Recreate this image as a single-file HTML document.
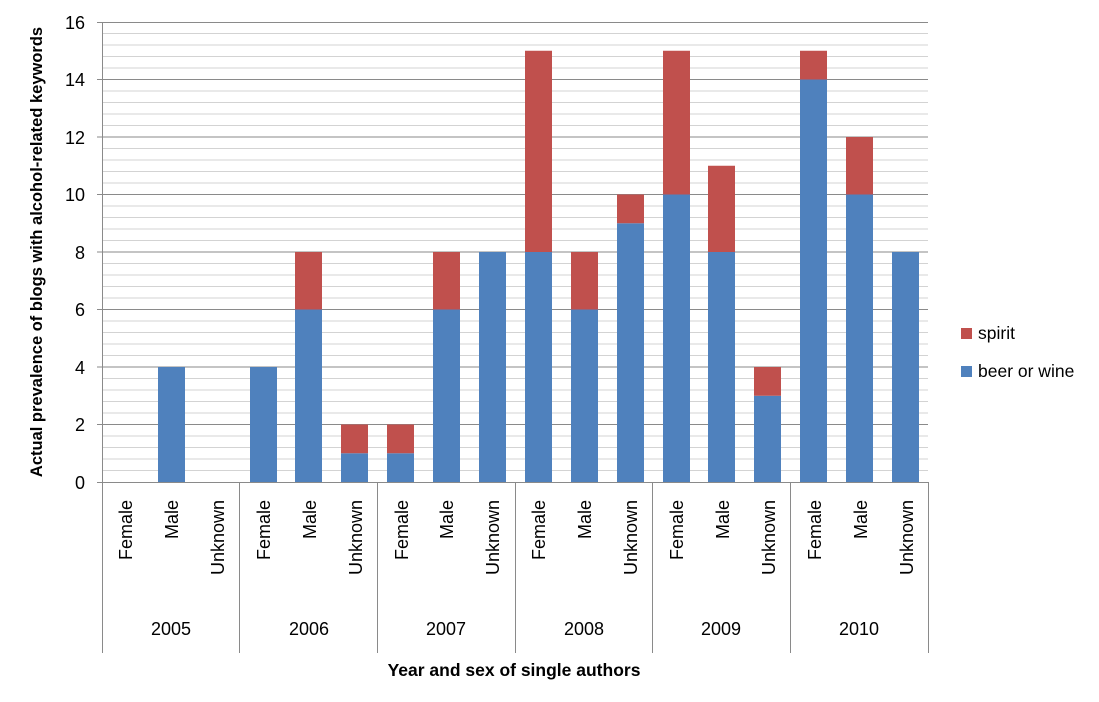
<!DOCTYPE html>
<html><head><meta charset="utf-8"><style>html,body{margin:0;padding:0;background:#fff}svg{display:block}text{font-family:"Liberation Sans",sans-serif;fill:#000}</style></head><body>
<svg width="1099" height="702" viewBox="0 0 1099 702" xmlns="http://www.w3.org/2000/svg">
<g stroke="#d3d3d3" stroke-width="1">
<line x1="102" x2="928" y1="33.5" y2="33.5"/><line x1="102" x2="928" y1="45" y2="45"/><line x1="102" x2="928" y1="56.5" y2="56.5"/><line x1="102" x2="928" y1="68" y2="68"/>
<line x1="102" x2="928" y1="91" y2="91"/><line x1="102" x2="928" y1="102.5" y2="102.5"/><line x1="102" x2="928" y1="114" y2="114"/><line x1="102" x2="928" y1="125.5" y2="125.5"/>
<line x1="102" x2="928" y1="148.5" y2="148.5"/><line x1="102" x2="928" y1="160" y2="160"/><line x1="102" x2="928" y1="171.5" y2="171.5"/><line x1="102" x2="928" y1="183" y2="183"/>
<line x1="102" x2="928" y1="206" y2="206"/><line x1="102" x2="928" y1="217.5" y2="217.5"/><line x1="102" x2="928" y1="229" y2="229"/><line x1="102" x2="928" y1="240.5" y2="240.5"/>
<line x1="102" x2="928" y1="263.5" y2="263.5"/><line x1="102" x2="928" y1="275" y2="275"/><line x1="102" x2="928" y1="286.5" y2="286.5"/><line x1="102" x2="928" y1="298" y2="298"/>
<line x1="102" x2="928" y1="321" y2="321"/><line x1="102" x2="928" y1="332.5" y2="332.5"/><line x1="102" x2="928" y1="344" y2="344"/><line x1="102" x2="928" y1="355.5" y2="355.5"/>
<line x1="102" x2="928" y1="378.5" y2="378.5"/><line x1="102" x2="928" y1="390" y2="390"/><line x1="102" x2="928" y1="401.5" y2="401.5"/><line x1="102" x2="928" y1="413" y2="413"/>
<line x1="102" x2="928" y1="436" y2="436"/><line x1="102" x2="928" y1="447.5" y2="447.5"/><line x1="102" x2="928" y1="459" y2="459"/><line x1="102" x2="928" y1="470.5" y2="470.5"/>
</g>
<g stroke="#8a8a8a" stroke-width="1">
<line x1="97" x2="928" y1="22.5" y2="22.5"/><line x1="97" x2="928" y1="79.5" y2="79.5"/><line x1="97" x2="928" y1="137" y2="137"/><line x1="97" x2="928" y1="194.5" y2="194.5"/><line x1="97" x2="928" y1="252" y2="252"/><line x1="97" x2="928" y1="309.5" y2="309.5"/><line x1="97" x2="928" y1="367" y2="367"/><line x1="97" x2="928" y1="424.5" y2="424.5"/>
</g>
<g fill="#4F81BD">
<rect x="158" y="367" width="27" height="115"/>
<rect x="250" y="367" width="27" height="115"/>
<rect x="295" y="309.5" width="27" height="172.5"/>
<rect x="341" y="453.25" width="27" height="28.75"/>
<rect x="387" y="453.25" width="27" height="28.75"/>
<rect x="433" y="309.5" width="27" height="172.5"/>
<rect x="479" y="252" width="27" height="230"/>
<rect x="525" y="252" width="27" height="230"/>
<rect x="571" y="309.5" width="27" height="172.5"/>
<rect x="617" y="223.25" width="27" height="258.75"/>
<rect x="663" y="194.5" width="27" height="287.5"/>
<rect x="708" y="252" width="27" height="230"/>
<rect x="754" y="395.75" width="27" height="86.25"/>
<rect x="800" y="79.5" width="27" height="402.5"/>
<rect x="846" y="194.5" width="27" height="287.5"/>
<rect x="892" y="252" width="27" height="230"/>
</g>
<g fill="#C0504D">
<rect x="295" y="252" width="27" height="57.5"/>
<rect x="341" y="424.5" width="27" height="28.75"/>
<rect x="387" y="424.5" width="27" height="28.75"/>
<rect x="433" y="252" width="27" height="57.5"/>
<rect x="525" y="50.75" width="27" height="201.25"/>
<rect x="571" y="252" width="27" height="57.5"/>
<rect x="617" y="194.5" width="27" height="28.75"/>
<rect x="663" y="50.75" width="27" height="143.75"/>
<rect x="708" y="165.75" width="27" height="86.25"/>
<rect x="754" y="367" width="27" height="28.75"/>
<rect x="800" y="50.75" width="27" height="28.75"/>
<rect x="846" y="137" width="27" height="57.5"/>
</g>
<g stroke="#8a8a8a" stroke-width="1">
<line x1="102.5" x2="102.5" y1="22" y2="653"/>
<line x1="97" x2="928" y1="482.5" y2="482.5"/>
<line x1="239.5" x2="239.5" y1="482" y2="653"/>
<line x1="377.5" x2="377.5" y1="482" y2="653"/>
<line x1="515.5" x2="515.5" y1="482" y2="653"/>
<line x1="652.5" x2="652.5" y1="482" y2="653"/>
<line x1="790.5" x2="790.5" y1="482" y2="653"/>
<line x1="928.5" x2="928.5" y1="482" y2="653"/>
</g>
<g font-size="18" text-anchor="end">
<text x="85" y="29">16</text><text x="85" y="86">14</text><text x="85" y="144">12</text><text x="85" y="201">10</text><text x="85" y="259">8</text><text x="85" y="316">6</text><text x="85" y="374">4</text><text x="85" y="431">2</text><text x="85" y="489">0</text>
</g>
<g font-size="18" text-anchor="end">
<text transform="translate(132,500) rotate(-90)">Female</text>
<text transform="translate(178,500) rotate(-90)">Male</text>
<text transform="translate(224,500) rotate(-90)">Unknown</text>
<text transform="translate(270,500) rotate(-90)">Female</text>
<text transform="translate(316,500) rotate(-90)">Male</text>
<text transform="translate(362,500) rotate(-90)">Unknown</text>
<text transform="translate(408,500) rotate(-90)">Female</text>
<text transform="translate(453,500) rotate(-90)">Male</text>
<text transform="translate(499,500) rotate(-90)">Unknown</text>
<text transform="translate(545,500) rotate(-90)">Female</text>
<text transform="translate(591,500) rotate(-90)">Male</text>
<text transform="translate(637,500) rotate(-90)">Unknown</text>
<text transform="translate(683,500) rotate(-90)">Female</text>
<text transform="translate(729,500) rotate(-90)">Male</text>
<text transform="translate(775,500) rotate(-90)">Unknown</text>
<text transform="translate(821,500) rotate(-90)">Female</text>
<text transform="translate(867,500) rotate(-90)">Male</text>
<text transform="translate(913,500) rotate(-90)">Unknown</text>
</g>
<g font-size="18" text-anchor="middle">
<text x="171" y="635">2005</text><text x="309" y="635">2006</text><text x="446" y="635">2007</text><text x="584" y="635">2008</text><text x="721" y="635">2009</text><text x="859" y="635">2010</text>
</g>
<text x="514" y="676" font-size="17.5" font-weight="bold" text-anchor="middle">Year  and sex of single authors</text>
<text transform="translate(42,252) rotate(-90)" font-size="16.5" font-weight="bold" text-anchor="middle">Actual prevalence of blogs with alcohol-related keywords</text>
<rect x="961" y="328" width="11" height="11" fill="#C0504D"/>
<text x="978" y="339" font-size="17.5">spirit</text>
<rect x="961" y="366" width="11" height="11" fill="#4F81BD"/>
<text x="978" y="377" font-size="17.5">beer or wine</text>
</svg>
</body></html>
